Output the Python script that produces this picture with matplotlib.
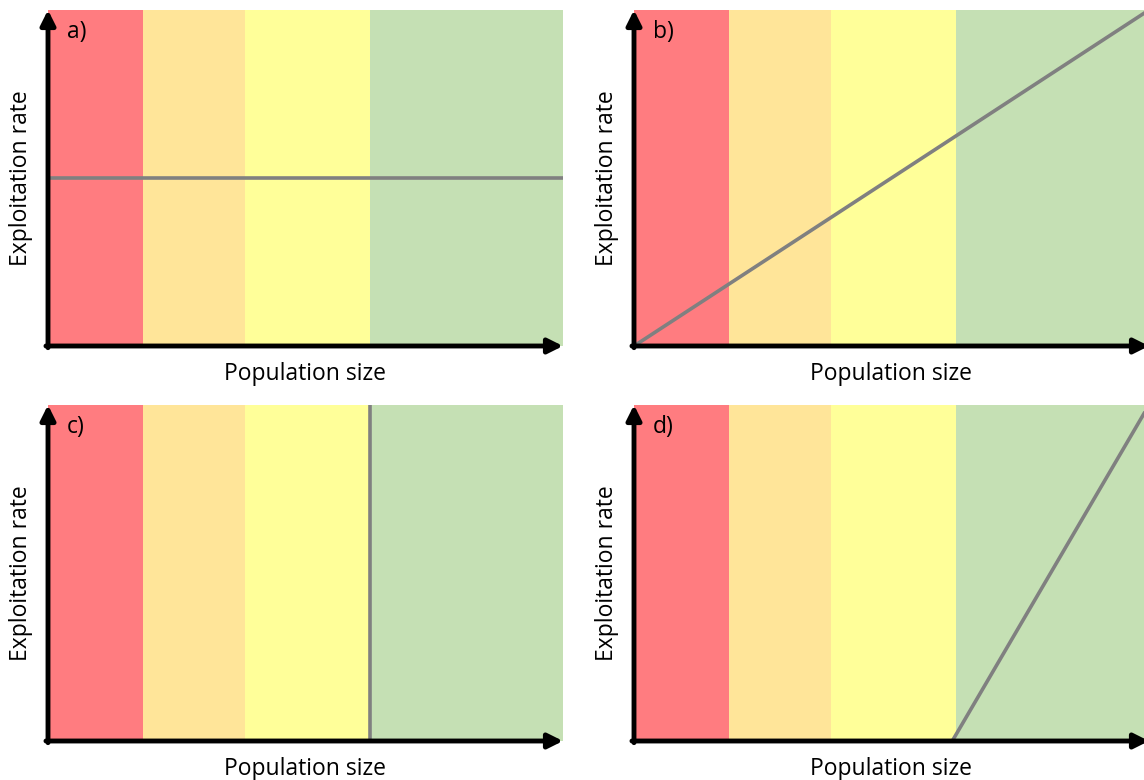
import matplotlib
matplotlib.use("Agg")
from matplotlib import pyplot as plt

plt.rcParams['font.family'] = ['Open Sans', 'DejaVu Sans']

# stock status zones along the population axis (fraction of axis)
zone_edges = [0.0, 0.184, 0.383, 0.625, 1.0]
zone_colors = ['#FF7C80', '#FFE599', '#FFFF99', '#C5E0B4']

# harvest control rules: exploitation rate vs population size
panel_labels = ['a)', 'b)', 'c)', 'd)']
rule_x = [[0.0, 1.0], [0.0, 1.0], [0.625, 0.625], [0.618, 1.0]]
rule_y = [[0.5, 0.5], [0.0, 1.0], [0.0, 1.0], [0.0, 1.0]]

W, H = 1144, 780
fig = plt.figure(figsize=(W / 100, H / 100), dpi=100)

# panel boxes in pixels: left, top
boxes = [(48, 10), (634, 10), (48, 405), (634, 405)]
pw, ph = 515, 336

for i, (left, top) in enumerate(boxes):
    ax = fig.add_axes([left / W, (H - top - ph) / H, pw / W, ph / H])
    ax.set_xlim(0, 1)
    ax.set_ylim(0, 1)
    for j in range(len(zone_colors)):
        ax.axvspan(zone_edges[j], zone_edges[j + 1], color=zone_colors[j], lw=0)
    ax.plot(rule_x[i], rule_y[i], color='#808080', lw=2.6, solid_capstyle='butt')
    for s in ax.spines.values():
        s.set_visible(False)
    ax.set_xticks([])
    ax.set_yticks([])

    # axis arrows
    arrow = dict(arrowstyle='-|>,head_length=0.8,head_width=0.4', lw=3.5,
                 color='k', shrinkA=0, shrinkB=0, mutation_scale=11)
    ax.annotate('', xy=(1.0, 0), xytext=(-0.004, 0), xycoords='axes fraction',
                arrowprops=arrow, annotation_clip=False)
    ax.annotate('', xy=(0, 1.0), xytext=(0, -0.005), xycoords='axes fraction',
                arrowprops=arrow, annotation_clip=False)

    ax.text(0.036, 0.935, panel_labels[i], transform=ax.transAxes,
            fontsize=16.5, va='center', ha='left')
    ax.text(0.5, -0.083, 'Population size', transform=ax.transAxes,
            fontsize=16.5, ha='center', va='center')
    ax.text(-0.052, 0.5, 'Exploitation rate', transform=ax.transAxes,
            fontsize=16.5, ha='center', va='center', rotation=90)

fig.savefig('out.png', dpi=100)
